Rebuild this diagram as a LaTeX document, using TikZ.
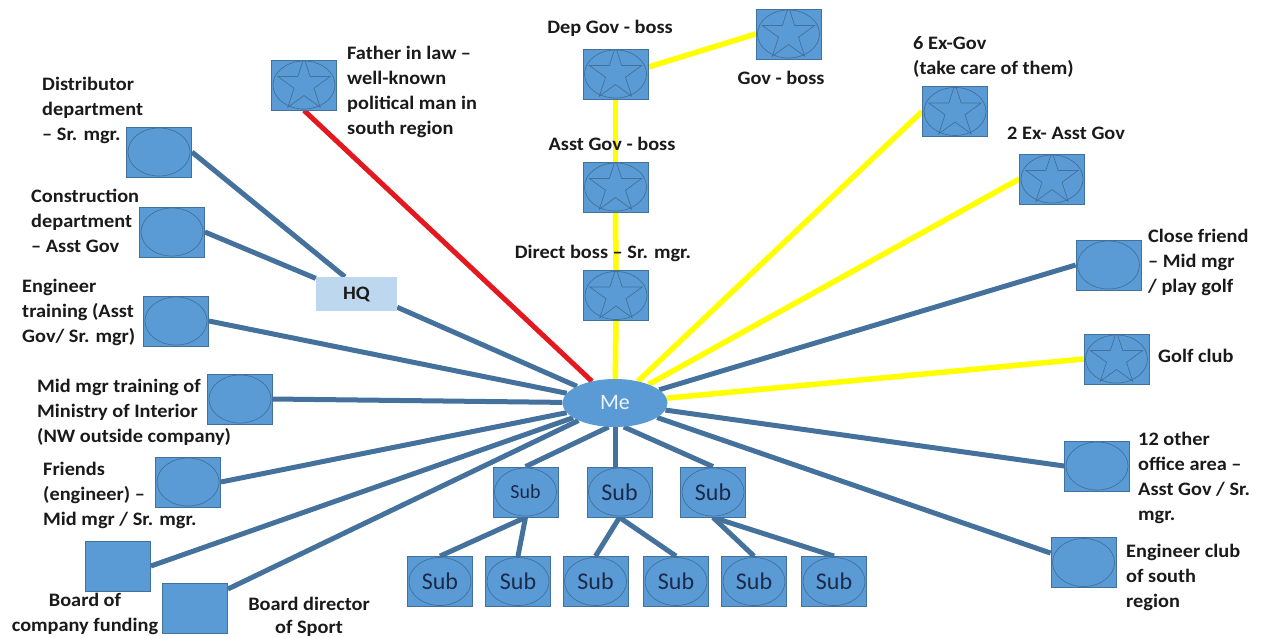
\documentclass[tikz,border=0pt]{standalone}
\usepackage{fontspec}
\setmainfont{Carlito}
\newfontfamily\labelfont{Carlito}[FakeStretch=1.07]
\usetikzlibrary{shapes.geometric,backgrounds}

\definecolor{boxfill}{HTML}{5B9BD5}
\definecolor{boxline}{HTML}{41719C}
\definecolor{linkblue}{HTML}{44729D}
\definecolor{linkyellow}{HTML}{FFFF00}
\definecolor{linkred}{HTML}{E3191F}
\definecolor{hqfill}{HTML}{BDD7EE}
\definecolor{subtext}{HTML}{1B2A4A}
\definecolor{labeltext}{HTML}{1A1A1A}
\definecolor{metext}{HTML}{EEF4FB}

\tikzset{
  box/.style={rectangle, draw=boxline, fill=boxfill, line width=0.8pt,
    minimum width=65pt, minimum height=50pt, inner sep=0pt},
  ovalbox/.style={box, path picture={
    \draw[boxline, line width=0.7pt] (path picture bounding box.center)
      ellipse [x radius=31pt, y radius=24pt];}},
  starbox/.style={box, path picture={
    \draw[boxline, line width=0.7pt] (path picture bounding box.center)
      ellipse [x radius=31pt, y radius=24pt];
    \draw[boxline, line width=0.7pt, shift={(path picture bounding box.center)}, yshift=-2.5pt]
      (90:27.5pt) -- (126:10.5pt) -- (162:27.5pt) -- (198:10.5pt) -- (234:27.5pt)
      -- (270:10.5pt) -- (306:27.5pt) -- (342:10.5pt) -- (18:27.5pt) -- (54:10.5pt) -- cycle;}},
  plainbox/.style={box},
  lbl/.style={font=\labelfont\bfseries\fontsize{19}{25}\selectfont, text=labeltext, inner sep=0pt},
  subbig/.style={font=\fontsize{24}{28}\selectfont, text=subtext},
  subsmall/.style={font=\fontsize{20}{24}\selectfont, text=subtext},
  bluelink/.style={draw=linkblue, line width=5pt},
  yellowlink/.style={draw=linkyellow, line width=5.5pt},
  redlink/.style={draw=linkred, line width=5pt},
}

\begin{document}
\begin{tikzpicture}[x=1pt, y=-1pt]
  \useasboundingbox (0,0) rectangle (1265,638);

  % centre node
  \node[ellipse, fill=boxfill, minimum width=105pt, minimum height=48pt, inner sep=0pt,
        text=metext, font=\fontsize{22}{26}\selectfont] (me) at (615,403) {Me};

  % left-hand contacts
  \node[ovalbox] (dist) at (159,152) {};
  \node[ovalbox] (cons) at (172,232) {};
  \node[rectangle, fill=hqfill, minimum width=81pt, minimum height=34pt, inner sep=0pt,
        font=\labelfont\bfseries\fontsize{19}{22}\selectfont, text=labeltext] (hq) at (356.5,294) {HQ};
  \node[ovalbox] (engt) at (176,321) {};
  \node[ovalbox] (midt) at (240,399) {};
  \node[ovalbox] (frnd) at (188,482) {};
  \node[plainbox] (bfund) at (118,566) {};
  \node[plainbox] (bsport) at (195,608) {};

  % upper chain
  \node[starbox] (fil) at (304,85) {};
  \node[starbox] (dep) at (615.5,74) {};
  \node[starbox] (gov) at (788.5,34) {};
  \node[starbox] (asst) at (615.5,187) {};
  \node[starbox] (direct) at (616,295.5) {};

  % right-hand contacts
  \node[starbox] (exgov) at (955,111.5) {};
  \node[starbox] (exasst) at (1052,179) {};
  \node[ovalbox] (cfriend) at (1108.5,265) {};
  \node[starbox] (golf) at (1116.5,359) {};
  \node[ovalbox] (other) at (1097,466) {};
  \node[ovalbox] (engclub) at (1083.5,562.5) {};

  % subordinates
  \node[ovalbox, subsmall] (s1) at (525.5,492) {Sub};
  \node[ovalbox, subbig] (s2) at (619.5,492) {Sub};
  \node[ovalbox, subbig] (s3) at (713,492) {Sub};
  \node[ovalbox, subbig] (b1) at (440,581.5) {Sub};
  \node[ovalbox, subbig] (b2) at (518,581.5) {Sub};
  \node[ovalbox, subbig] (b3) at (595.5,581.5) {Sub};
  \node[ovalbox, subbig] (b4) at (676,581.5) {Sub};
  \node[ovalbox, subbig] (b5) at (754,581.5) {Sub};
  \node[ovalbox, subbig] (b6) at (834,581.5) {Sub};

  % labels
  \node[lbl, anchor=north west, align=left] (tdist) at (42,77) {Distributor\\department\\– Sr. mgr.};
  \node[lbl, anchor=north west, align=left] (tcons) at (31,189) {Construction\\department\\– Asst Gov};
  \node[lbl, anchor=north west, align=left] (tengt) at (22,279) {Engineer\\training (Asst\\Gov/ Sr. mgr)};
  \node[lbl, anchor=north west, align=left] (tmidt) at (37,379) {Mid mgr training of\\Ministry of Interior\\(NW outside company)};
  \node[lbl, anchor=north west, align=left] (tfrnd) at (43,462) {Friends\\(engineer) –\\Mid mgr / Sr. mgr.};
  \node[lbl, anchor=north, align=center] (tbfund) at (85,593) {Board of\\company funding};
  \node[lbl, anchor=north, align=center, font=\labelfont\bfseries\fontsize{19}{23}\selectfont] (tbsport) at (309,597) {Board director\\of Sport};
  \node[lbl, anchor=north west, align=left] (tfil) at (347,46) {Father in law –\\well-known\\political man in\\south region};
  \node[lbl, anchor=north] (tdep) at (610,20) {Dep Gov - boss};
  \node[lbl, anchor=north] (tasst) at (612,137) {Asst Gov - boss};
  \node[lbl, anchor=north] (tdirect) at (603,245) {Direct boss – Sr. mgr.};
  \node[lbl, anchor=north] (tgov) at (781,71) {Gov - boss};
  \node[lbl, anchor=north west, align=left] (texgov) at (913,36) {6 Ex-Gov\\(take care of them)};
  \node[lbl, anchor=north west] (texasst) at (1007,127) {2 Ex- Asst Gov};
  \node[lbl, anchor=north west, align=left] (tcfriend) at (1148,229) {Close friend\\– Mid mgr\\/ play golf};
  \node[lbl, anchor=north west] (tgolf) at (1158,349) {Golf club};
  \node[lbl, anchor=north west, align=left] (tother) at (1138,432) {12 other\\office area –\\Asst Gov / Sr.\\mgr.};
  \node[lbl, anchor=north west, align=left] (tengclub) at (1126,544) {Engineer club\\of south\\region};

  % connectors, behind the nodes
  \begin{pgfonlayer}{background}
    \fill[white] (0,0) rectangle (1265,638);
    % blue links
    \draw[bluelink] (dist.east) -- (hq.124);
    \draw[bluelink] (cons.east) -- (hq.159);
    \draw[bluelink] (hq.-18) -- (me);
    \draw[bluelink] (engt.east) -- (me);
    \draw[bluelink] (midt.east) -- (me);
    \draw[bluelink] (frnd.east) -- (me);
    \draw[bluelink] (bfund.east) -- (me);
    \draw[bluelink] (bsport.30) -- (me);
    \draw[bluelink] (me) -- (cfriend.west);
    \draw[bluelink] (me) -- (other.west);
    \draw[bluelink] (me) -- (engclub.164);
    % subordinates
    \draw[bluelink] (me.255) -- (s1.north);
    \draw[bluelink] (me.south) -- (me.south |- s2.north);
    \draw[bluelink] (me.290) -- (s3.north);
    \draw[bluelink] (s1.south) -- (b1.north);
    \draw[bluelink] (s1.south) -- (b2.north);
    \draw[bluelink] (s2.south) -- (b3.north);
    \draw[bluelink] (s2.south) -- (b4.north);
    \draw[bluelink] (s3.south) -- (b5.north);
    \draw[bluelink] (s3.south) -- (b6.north);
    % red link
    \draw[redlink] (fil.south) -- (me);
    % yellow links
    \draw[yellowlink] (dep.12) -- (gov.west);
    \draw[yellowlink] (dep.south) -- (asst.north);
    \draw[yellowlink] (asst.south) -- (direct.north);
    \draw[yellowlink] (direct.south) -- (me);
    \draw[yellowlink] (me) -- (exgov.west);
    \draw[yellowlink] (me) -- (exasst.west);
    \draw[yellowlink] (me) -- (golf.west);
  \end{pgfonlayer}
\end{tikzpicture}
\end{document}
